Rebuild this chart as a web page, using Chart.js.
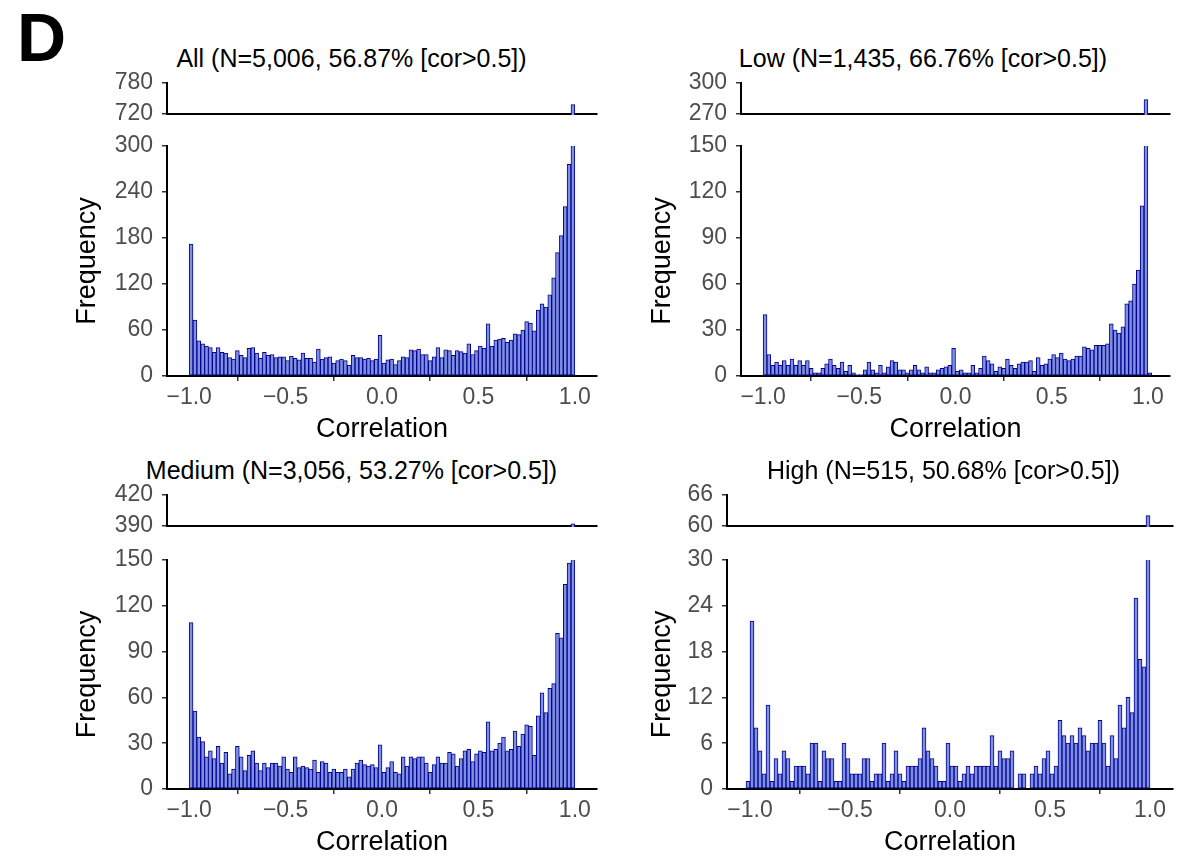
<!DOCTYPE html>
<html><head><meta charset="utf-8">
<script src="https://cdn.jsdelivr.net/npm/chart.js@4.4.0/dist/chart.umd.min.js"></script>
<style>
html,body{margin:0;padding:0;background:#fff;width:1201px;height:862px;overflow:hidden;position:relative}
canvas{position:absolute}
#lbl{position:absolute;left:17px;top:3px;font:bold 68px "Liberation Sans",Arial,sans-serif;line-height:68px;color:#000}
.ttl{position:absolute;width:600px;text-align:center;font:25px "Liberation Sans",Arial,sans-serif;line-height:30px;color:#000;white-space:nowrap}
</style></head><body>
<div id="lbl">D</div>
<script>
// ---- data ----
const binStart = -1.02;   // left edge of first bin
const binWidth = 0.02;
const xTickValues = [-1, -0.5, 0, 0.5, 1];
const xTickLabels = ['\u22121.0', '\u22120.5', '0.0', '0.5', '1.0'];

const allTitle = 'All (N=5,006, 56.87% [cor>0.5])';
const lowTitle = 'Low (N=1,435, 66.76% [cor>0.5])';
const mediumTitle = 'Medium (N=3,056, 53.27% [cor>0.5])';
const highTitle = 'High (N=515, 50.68% [cor>0.5])';

const allCounts = [0,
 172,73,46,42,39,37,31,37,31,30, 24,22,33,27,24,36,37,30,23,31,
 27,28,24,25,25,20,26,23,21,30, 23,23,18,35,22,24,25,17,20,22,
 20,14,27,24,24,22,23,20,22,53,
 17,21,22,15,20,25,24,34,33,35, 28,28,20,25,37,24,34,33,27,33,
 32,30,42,28,33,39,36,
 68,39,47,48,49,44,47,55,54,60, 71,69,59,86,94,90,106,128,161,183,
 221,276,738,
 0];
const lowCounts = [0,
 40,14,7,9,7,10,7,11,7,10, 7,10,5,2,2,5,8,11,7,5,
 9,3,7,2,1,1,4,9,4,2, 7,2,6,10,9,4,4,2,4,7,
 4,2,6,2,2,4,5,6,7,18,
 3,4,2,2,7,2,5,13,10,8, 3,6,5,11,7,5,8,9,9,10,
 3,12,7,8,11,14,12,15,11,10, 11,13,13,19,18,17,20,20,20,21,
 34,30,28,32,47,49,60,69,111,284,
 2];
const mediumCounts = [0,
 109,51,34,31,21,25,20,28,17,24, 10,13,28,21,12,22,25,17,12,17,
 14,17,17,15,21,13,11,21,14,15, 14,13,19,11,18,17,11,13,11,11,
 13,8,13,17,19,16,15,16,14,29,
 11,14,18,11,10,21,15,21,20,21, 21,17,11,16,21,17,17,24,23,15,
 20,25,26,18,23,25,24,
 44,25,26,30,34,25,26,38,28,36, 42,41,22,48,63,50,66,69,102,99,
 134,148,392,
 0];
const highCounts = [1,
 22,8,5,2,11,1,4,2,5,4, 1,3,3,3,2,6,6,1,5,4,
 4,1,1,6,4,2,2,2,4,4, 1,2,2,6,1,2,5,2,1,3,
 3,3,4,8,5,4,3,1,1,
 6,3,3,1,2,3,2,3,3,3, 3,7,3,5,4,4,5,0,2,2,
 0,2,3,2,4,5,2,3,9,7, 6,7,6,8,7,5,6,6,9,6,
 3,7,4,11,8,12,10,25,17,16, 62,
 0];

const allTopTicks = [720, 780];
const allBottomTicks = [0, 60, 120, 180, 240, 300];
const lowTopTicks = [270, 300];
const lowBottomTicks = [0, 30, 60, 90, 120, 150];
const mediumTopTicks = [390, 420];
const mediumBottomTicks = [0, 30, 60, 90, 120, 150];
const highTopTicks = [60, 66];
const highBottomTicks = [0, 6, 12, 18, 24, 30];

// ---- style / layout ----
const FONT = '"Liberation Sans", Arial, Helvetica, sans-serif';
const TICK_SIZE = 23, AXT_SIZE = 27;
const BAR_FILL = '#7F8FE3', BAR_LINE = '#00008B';
const XMIN = -1.115, XMAX = 1.115;

const panels = [
  {title: allTitle, counts: allCounts, topTicks: allTopTicks, botTicks: allBottomTicks,
   g: {plotL:167, plotR:597, topT:83, topB:114, botT:146, botB:376, titleCX:351.5, titleY:58, freqX:88}},
  {title: lowTitle, counts: lowCounts, topTicks: lowTopTicks, botTicks: lowBottomTicks,
   g: {plotL:741, plotR:1170, topT:83, topB:114, botT:146, botB:376, titleCX:923, titleY:58, freqX:663}},
  {title: mediumTitle, counts: mediumCounts, topTicks: mediumTopTicks, botTicks: mediumBottomTicks,
   g: {plotL:167, plotR:597, topT:495, topB:526, botT:560, botB:789, titleCX:351.5, titleY:470, freqX:88}},
  {title: highTitle, counts: highCounts, topTicks: highTopTicks, botTicks: highBottomTicks,
   g: {plotL:727, plotR:1173, topT:495, topB:526, botT:560, botB:789, titleCX:943.5, titleY:470, freqX:663}}
];

function centers(n){ return Array.from({length:n}, (_, i) => +(binStart + binWidth*(i+0.5)).toFixed(3)); }

function addCanvas(left, top, w, h){
  const c = document.createElement('canvas');
  c.width = Math.round(w); c.height = Math.round(h);
  c.style.left = left+'px'; c.style.top = top+'px';
  c.style.width = Math.round(w)+'px'; c.style.height = Math.round(h)+'px';
  document.body.appendChild(c);
  return c;
}

function barDataset(counts){
  const cs = centers(counts.length);
  return {
    data: counts.map((v,i)=>({x: cs[i], y: v})),
    backgroundColor: BAR_FILL, borderColor: BAR_LINE,
    borderWidth: 1,
    borderSkipped: false,
    barPercentage: 1, categoryPercentage: 1,
    clip: {left: 0, right: 0, top: 0, bottom: 1}
  };
}

function xScale(showTicks){
  return {
    type:'linear', min: XMIN, max: XMAX, offset:false, z: 1,
    afterBuildTicks: s => { s.ticks = xTickValues.map(v=>({value:v})); },
    afterFit: s => { s.height = showTicks ? 70 : 0; },
    grid: {display: showTicks, drawOnChartArea:false, drawTicks: showTicks, tickLength:5, color:'#333', lineWidth:1.5},
    border: {display:true, color:'#000', width:2},
    ticks: {display: showTicks, autoSkip:false, maxRotation:0, padding:3, color:'#4D4D4D',
            font:{family:FONT,size:TICK_SIZE}, callback:(v,i)=>xTickLabels[i]},
    title: {display: showTicks, text:'Correlation', color:'#000', font:{family:FONT,size:AXT_SIZE}, padding:{top:0,bottom:0}}
  };
}

function yScale(min, max, ticks, width, showTitle, titlePad){
  return {
    type:'linear', min, max, z:1, grace:0,
    afterBuildTicks: s => { s.ticks = ticks.map(v=>({value:v})); },
    afterFit: s => { s.width = width; },
    grid: {display:true, drawOnChartArea:false, drawTicks:true, tickLength:5, color:'#333', lineWidth:1.5},
    border: {display:true, color:'#000', width:2},
    ticks: {autoSkip:false, padding:9, color:'#4D4D4D', font:{family:FONT,size:TICK_SIZE}, callback: v => String(v)},
    title: {display: showTitle, text:'Frequency', color:'#000', font:{family:FONT,size:AXT_SIZE}, padding:{top:titlePad||0,bottom:0}}
  };
}

function makeChart(canvas, counts, x, y, pad){
  return new Chart(canvas, {
    type:'bar',
    data:{datasets:[barDataset(counts)]},
    options:{
      responsive:false, animation:false, devicePixelRatio:1,
      layout:{padding: pad},
      plugins:{legend:{display:false}, tooltip:{enabled:false}, title:{display:false}},
      scales:{x, y}
    }
  });
}

panels.forEach(p => {
  const g = p.g;
  // panel title (HTML text)
  const t = document.createElement('div');
  t.className = 'ttl';
  t.textContent = p.title;
  t.style.left = (g.titleCX - 300) + 'px';
  t.style.top = (g.titleY - 15) + 'px';
  document.body.appendChild(t);
  // --- upper (broken-axis) strip ---
  {
    const L = g.plotL - 80, CT = g.topT - 30;
    const W = g.plotR - L + 10;
    const H = g.topB - CT + 30;
    const c = addCanvas(L, CT, W, H);
    makeChart(c, p.counts, xScale(false),
      yScale(p.topTicks[0], p.topTicks[p.topTicks.length-1], p.topTicks, 80, false),
      {left: 0, right: 10, top: 30, bottom: 30});
  }
  // --- main histogram ---
  {
    const L = g.plotL - 107, CT = g.botT - 30;
    const W = g.plotR - L + 20;
    const H = g.botB - CT + 70;
    const c = addCanvas(L, CT, W, H);
    makeChart(c, p.counts, xScale(true),
      yScale(p.botTicks[0], p.botTicks[p.botTicks.length-1], p.botTicks, 107, true, g.freqX - L - AXT_SIZE*0.6),
      {left: 0, right: 20, top: 30, bottom: 0});
  }
});
</script>
</body></html>
